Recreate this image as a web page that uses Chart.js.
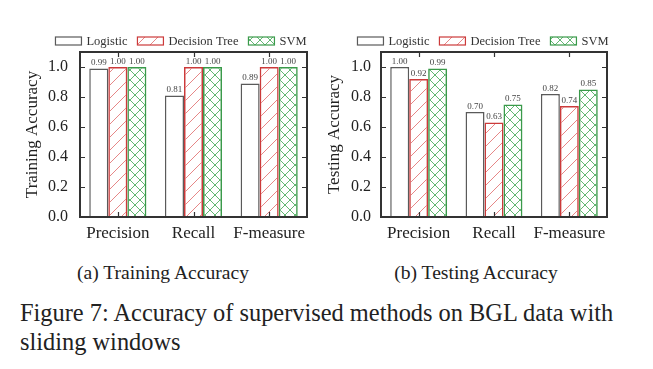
<!DOCTYPE html>
<html><head><meta charset="utf-8">
<script src="https://cdn.jsdelivr.net/npm/chart.js@4"></script>
<style>
html,body{margin:0;padding:0;background:#fff;}
body{width:653px;height:369px;position:relative;overflow:hidden;font-family:"Liberation Serif",serif;color:#222;}
.cv{position:absolute;top:0;height:250px;}
#c1wrap{left:0;width:320px;}
#c2wrap{left:320px;width:333px;}
.sub{position:absolute;top:262px;font-size:19.6px;white-space:nowrap;transform:translateX(-50%);}
#cap{position:absolute;left:20px;top:298px;font-size:24.4px;line-height:29px;width:630px;}
</style></head>
<body>
<div class="cv" id="c1wrap"><canvas id="c1"></canvas></div>
<div class="cv" id="c2wrap"><canvas id="c2"></canvas></div>
<div class="sub" style="left:163px">(a) Training Accuracy</div>
<div class="sub" style="left:476px">(b) Testing Accuracy</div>
<div id="cap">Figure 7: Accuracy of supervised methods on BGL data with<br>sliding windows</div>
<script>
const categories = ["Precision", "Recall", "F-measure"];
const seriesNames = ["Logistic", "Decision Tree", "SVM"];
const trainLogistic = [0.99, 0.81, 0.89];
const trainTree = [1.00, 1.00, 1.00];
const trainSVM = [1.00, 1.00, 1.00];
const testLogistic = [1.00, 0.70, 0.82];
const testTree = [0.92, 0.63, 0.74];
const testSVM = [0.99, 0.75, 0.85];
const yTicks = [0.0, 0.2, 0.4, 0.6, 0.8, 1.0];

const SERIF = '"Liberation Serif", "Times New Roman", serif';
Chart.defaults.font.family = SERIF;

function makePattern(kind) {
  const c = document.createElement('canvas');
  const ctx = c.getContext('2d');
  if (kind === 'slash') {
    const s = 13; c.width = s; c.height = s;
    ctx.strokeStyle = 'rgba(222,95,95,0.75)'; ctx.lineWidth = 1;
    ctx.beginPath();
    ctx.moveTo(0, s); ctx.lineTo(s, 0);
    ctx.moveTo(-2, 2); ctx.lineTo(2, -2);
    ctx.moveTo(s - 2, s + 2); ctx.lineTo(s + 2, s - 2);
    ctx.stroke();
  } else {
    const s = 10; c.width = s; c.height = s;
    ctx.strokeStyle = 'rgba(60,165,80,0.8)'; ctx.lineWidth = 1;
    ctx.beginPath();
    ctx.moveTo(0, 0); ctx.lineTo(s, s);
    ctx.moveTo(s, 0); ctx.lineTo(0, s);
    ctx.stroke();
  }
  return ctx.createPattern(c, 'repeat');
}

const framePlugin = {
  id: 'frame',
  afterDraw(chart, args, opts) {
    const {ctx, chartArea: a} = chart;
    const y = chart.scales.y, x = chart.scales.x;
    ctx.save();
    ctx.strokeStyle = '#333'; ctx.lineWidth = 2;
    ctx.strokeRect(a.left, a.top, a.right - a.left, a.bottom - a.top);
    ctx.lineWidth = 1.2;
    ctx.beginPath();
    yTicks.forEach(v => {
      if (v === 0) return;
      const py = Math.round(y.getPixelForValue(v)) + 0.5;
      ctx.moveTo(a.left, py); ctx.lineTo(a.left + 5, py);
      ctx.moveTo(a.right, py); ctx.lineTo(a.right - 5, py);
    });
    categories.forEach((c, i) => {
      const px = Math.round(x.getPixelForValue(i)) + 0.5;
      ctx.moveTo(px, a.top); ctx.lineTo(px, a.top + 5);
      ctx.moveTo(px, a.bottom); ctx.lineTo(px, a.bottom - 5);
    });
    ctx.stroke();
    ctx.fillStyle = '#444';
    ctx.font = '9px ' + SERIF;
    ctx.textAlign = 'center'; ctx.textBaseline = 'bottom';
    chart.data.datasets.forEach((ds, di) => {
      const meta = chart.getDatasetMeta(di);
      meta.data.forEach((bar, i) => {
        ctx.fillText(ds.data[i].toFixed(2), bar.x, bar.y - 1);
      });
    });
    const cx = opts.legendCenter, cy = 41;
    ctx.font = '12.5px ' + SERIF;
    ctx.textAlign = 'left'; ctx.textBaseline = 'middle';
    const bw = 26, bh = 8, gap = 5, pad = 10;
    const widths = seriesNames.map(n => bw + gap + ctx.measureText(n).width);
    const total = widths.reduce((s, w) => s + w, 0) + pad * (widths.length - 1);
    let lx = cx - total / 2;
    chart.data.datasets.forEach((ds, di) => {
      ctx.fillStyle = ds.backgroundColor;
      ctx.fillRect(lx, cy - bh / 2, bw, bh);
      ctx.strokeStyle = ds.borderColor; ctx.lineWidth = 1.2;
      ctx.strokeRect(lx, cy - bh / 2, bw, bh);
      ctx.fillStyle = '#333';
      ctx.fillText(ds.label, lx + bw + gap, cy + 1);
      lx += widths[di] + pad;
    });
    ctx.restore();
  }
};

function makeChart(id, data, title, pad, yWidth, titlePad, tickPad, legendCenter, styles) {
  return new Chart(document.getElementById(id), {
    type: 'bar',
    data: {
      labels: categories,
      datasets: data.map((d, i) => ({
        label: seriesNames[i], data: d,
        backgroundColor: styles[i].bg, borderColor: styles[i].border,
        borderWidth: 1.5, categoryPercentage: 0.755, barPercentage: 1.0
      }))
    },
    options: {
      responsive: true, maintainAspectRatio: false, animation: false,
      layout: {padding: pad},
      plugins: {legend: {display: false}, tooltip: {enabled: false}, frame: {legendCenter}},
      scales: {
        x: {
          grid: {display: false, drawTicks: false}, border: {display: false},
          ticks: {color: '#222', font: {family: SERIF, size: 17}, padding: 6, maxRotation: 0},
          afterFit(s) { s.height = 33; }
        },
        y: {
          min: 0, max: 1.1,
          grid: {display: false, drawTicks: false}, border: {display: false},
          ticks: {stepSize: 0.2, color: '#222', font: {family: SERIF, size: 16}, padding: tickPad,
                  callback: v => v.toFixed(1)},
          afterBuildTicks(s) { s.ticks = yTicks.map(v => ({value: v})); },
          afterFit(s) { s.width = yWidth; },
          title: {display: true, text: title, color: '#222', font: {family: SERIF, size: 17}, padding: {top: titlePad, bottom: 0}}
        }
      }
    },
    plugins: [framePlugin]
  });
}

function build() {
  const styles = [
    {bg: '#ffffff', border: '#5a5a5a'},
    {bg: makePattern('slash'), border: '#cc3a3a'},
    {bg: makePattern('cross'), border: '#3a9a4a'}
  ];
  makeChart('c1', [trainLogistic, trainTree, trainSVM], 'Training Accuracy',
    {left: 0, right: 13, top: 52, bottom: 0}, 80, 22, 12, 181, styles);
  makeChart('c2', [testLogistic, testTree, testSVM], 'Testing Accuracy',
    {left: 0, right: 46, top: 52, bottom: 0}, 61, 4, 10, 163, styles);
}
Promise.all([
  document.fonts.load('16px "Liberation Serif"'),
  document.fonts.load('9px "Liberation Serif"')
]).catch(() => {}).then(build);
</script>
</body></html>
